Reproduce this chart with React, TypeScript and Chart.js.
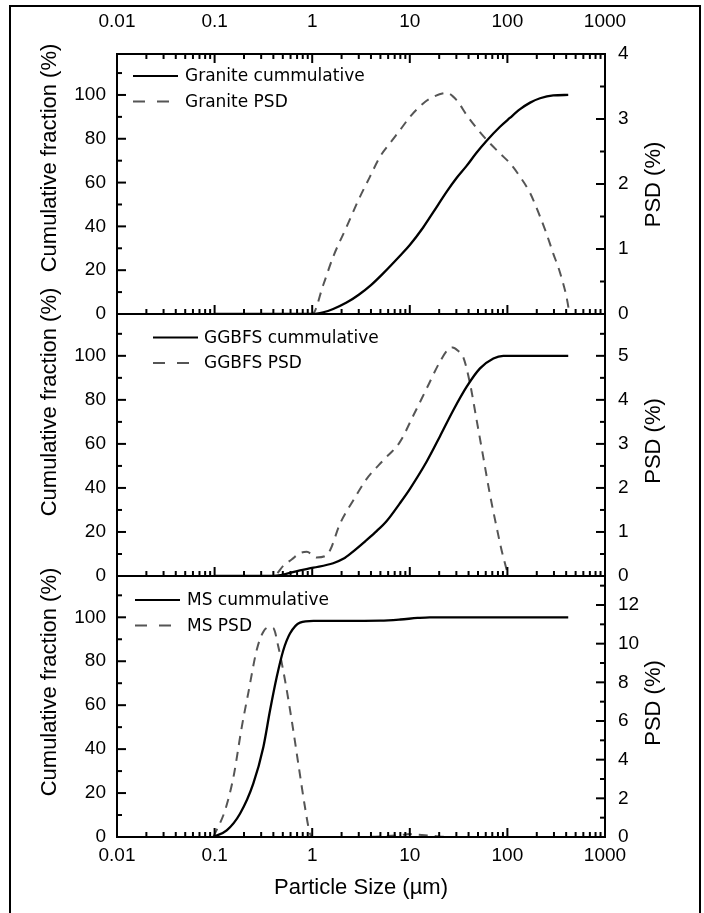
import React, { useEffect, useRef } from 'react';
import { Chart, registerables } from 'chart.js';

Chart.register(...registerables);

// ---------------- data ----------------
const xTickValues = [0.01, 0.1, 1, 10, 100, 1000];
const xTickLabels = ['0.01', '0.1', '1', '10', '100', '1000'];

const graniteCumSize = [0.1, 1, 1.3, 1.64, 2.25, 3, 4, 5.4, 7.9, 10, 13.7, 17.4, 24, 30, 38, 48, 61, 84, 106, 135, 171, 216, 295, 420];
const graniteCum = [0, 0, 0.8, 2.3, 5.2, 8.8, 13.2, 18.8, 26.5, 31.5, 39.5, 46.5, 56, 62, 67.5, 73.5, 79, 85.5, 89.5, 93.5, 96.5, 98.5, 99.8, 100];
const granitePsdSize = [0.1, 1, 1.3, 1.64, 2.25, 2.97, 3.9, 4.95, 6.27, 7.94, 10, 13.7, 17.4, 23.9, 30.2, 38.3, 48.4, 61.3, 84, 106, 135, 171, 216, 251, 295, 347, 421, 430];
const granitePsd = [0, 0, 0.45, 0.88, 1.34, 1.75, 2.11, 2.42, 2.63, 2.83, 3.03, 3.24, 3.34, 3.4, 3.29, 3.06, 2.86, 2.68, 2.47, 2.32, 2.11, 1.86, 1.5, 1.24, 0.93, 0.63, 0.11, 0];

const ggbfsCumSize = [0.1, 0.4, 0.75, 1.03, 1.64, 2.08, 2.6, 3.6, 4.6, 5.8, 7.9, 10, 14.9, 20.4, 27.9, 38.3, 52.4, 71.8, 90.8, 150, 420];
const ggbfsCum = [0, 0, 2.6, 3.8, 5.8, 7.8, 11, 16.3, 20.5, 25, 33, 39.5, 52, 63.5, 75.3, 86, 94.3, 98.8, 100, 100, 100];
const ggbfsPsdSize = [0.1, 0.4, 0.51, 0.62, 0.75, 0.88, 1.11, 1.35, 1.52, 1.93, 2.64, 3.6, 5.36, 7.9, 10.9, 14.9, 20.4, 24.8, 27.5, 31, 35.3, 41.4, 48.4, 56.6, 66, 77.5, 90.8, 106, 200, 421];
const ggbfsPsd = [0, 0, 0.24, 0.38, 0.52, 0.55, 0.42, 0.45, 0.58, 1.19, 1.72, 2.2, 2.63, 3.04, 3.65, 4.26, 4.87, 5.15, 5.19, 5.12, 4.97, 4.37, 3.54, 2.7, 1.87, 1.11, 0.43, 0, 0, 0];

const msCumSize = [0.097, 0.133, 0.182, 0.249, 0.316, 0.37, 0.433, 0.506, 0.592, 0.75, 1.03, 2, 5, 8, 12, 16, 30, 420];
const msCum = [0, 3, 10.6, 24.3, 41, 57.7, 72.8, 85, 92.6, 97.6, 98.4, 98.4, 98.5, 99, 99.7, 100, 100, 100];
const msPsdSize = [0.097, 0.128, 0.156, 0.19, 0.221, 0.27, 0.316, 0.36, 0.4, 0.45, 0.526, 0.616, 0.72, 0.843, 0.948, 1.0, 3, 8, 10, 12, 18, 25, 421];
const msPsd = [0, 1.38, 3.1, 5.7, 7.43, 9.67, 10.62, 10.85, 10.8, 9.84, 8.12, 6.05, 3.8, 1.55, 0.18, 0, 0, 0.1, 0.15, 0.12, 0.05, 0, 0];

const leftAxisTitle = 'Cumulative fraction (%)';
const rightAxisTitle = 'PSD (%)';
const xAxisTitle = 'Particle Size (µm)';

// ---------------- layout ----------------
const W = 704;
const H = 913;
const PLOT_LEFT = 117;
const PLOT_RIGHT = 605;
const Y_AXIS_W = 60;
const X_AXIS_H = 40;
const MAJOR = 9;
const MINOR = 5;
const TICK_FONT = { family: 'Liberation Sans', size: 19 };

const panels = [
  {
    cumLabel: 'Granite cummulative', psdLabel: 'Granite PSD',
    cumX: graniteCumSize, cumY: graniteCum, psdX: granitePsdSize, psdY: granitePsd,
    top: 54, bottom: 314, xPos: 'top', xLabels: true, topTicks: true,
    leftMax: 118.7, psdMax: 4, psdStep: 1,
    leftTitleY: 158, rightTitleY: 184.5, xTitleY: 0,
    legendX: 16, legendTextX: 68, legendY: 22,
  },
  {
    cumLabel: 'GGBFS cummulative', psdLabel: 'GGBFS PSD',
    cumX: ggbfsCumSize, cumY: ggbfsCum, psdX: ggbfsPsdSize, psdY: ggbfsPsd,
    top: 314, bottom: 576, xPos: 'bottom', xLabels: false, topTicks: false,
    leftMax: 119, psdMax: 5.95, psdStep: 1,
    leftTitleY: 402, rightTitleY: 441, xTitleY: 0,
    legendX: 36, legendTextX: 87, legendY: 23.5,
  },
  {
    cumLabel: 'MS cummulative', psdLabel: 'MS PSD',
    cumX: msCumSize, cumY: msCum, psdX: msPsdSize, psdY: msPsd,
    top: 576, bottom: 837, xPos: 'bottom', xLabels: true, topTicks: false,
    leftMax: 118.8, psdMax: 13.5, psdStep: 2,
    leftTitleY: 682, rightTitleY: 703, xTitleY: 888,
    legendX: 18, legendTextX: 70, legendY: 24,
  },
];

const decorPlugin = {
  id: 'decor',
  afterDraw(chart: any, _args: any, o: any) {
    const { ctx, chartArea: a } = chart;
    const xs = chart.scales.x;
    const yl = chart.scales.y;
    const yr = chart.scales.y2;
    const seg = (x1: number, y1: number, x2: number, y2: number) => {
      ctx.beginPath();
      ctx.moveTo(x1, y1);
      ctx.lineTo(x2, y2);
      ctx.stroke();
    };
    ctx.save();
    ctx.strokeStyle = '#000';
    ctx.lineWidth = 2;
    ctx.lineCap = 'butt';
    // x ticks (inward)
    for (let e = -2; e <= 3; e++) {
      for (let m = 1; m <= 9; m++) {
        const v = m * Math.pow(10, e);
        if (v > 1000.0001) continue;
        const px = xs.getPixelForValue(v);
        const len = m === 1 ? MAJOR : MINOR;
        seg(px, a.bottom, px, a.bottom - len);
        if (o.topTicks) seg(px, a.top, px, a.top + len);
      }
    }
    // left ticks
    yl.ticks.forEach((t: any) => {
      const py = yl.getPixelForValue(t.value);
      seg(a.left, py, a.left + MAJOR, py);
    });
    for (let v = 10; v < yl.max; v += 20) {
      const py = yl.getPixelForValue(v);
      seg(a.left, py, a.left + MINOR, py);
    }
    // right ticks
    yr.ticks.forEach((t: any) => {
      const py = yr.getPixelForValue(t.value);
      seg(a.right, py, a.right - MAJOR, py);
    });
    for (let v = o.psdStep / 2; v < yr.max; v += o.psdStep) {
      const py = yr.getPixelForValue(v);
      seg(a.right, py, a.right - MINOR, py);
    }
    // frame
    ctx.strokeRect(a.left, a.top, a.right - a.left, a.bottom - a.top);

    // titles
    ctx.fillStyle = '#000';
    ctx.font = '22px "Liberation Sans"';
    ctx.textAlign = 'center';
    ctx.textBaseline = 'middle';
    ctx.save();
    ctx.translate(50, o.leftTitleY);
    ctx.rotate(-Math.PI / 2);
    ctx.fillText(leftAxisTitle, 0, 0);
    ctx.restore();
    ctx.save();
    ctx.translate(653.5, o.rightTitleY);
    ctx.rotate(-Math.PI / 2);
    ctx.fillText(rightAxisTitle, 0, 0);
    ctx.restore();
    if (o.xTitleY) ctx.fillText(xAxisTitle, (a.left + a.right) / 2, o.xTitleY);

    // legend
    ctx.font = '17px "DejaVu Sans"';
    ctx.textAlign = 'left';
    chart.data.datasets.forEach((ds: any, i: number) => {
      const y = a.top + o.legendY + i * 25.5;
      ctx.strokeStyle = ds.borderColor;
      ctx.lineWidth = 2;
      ctx.setLineDash(ds.borderDash && ds.borderDash.length ? [12, 12] : []);
      seg(a.left + o.legendX, y, a.left + o.legendX + 45, y);
      ctx.setLineDash([]);
      ctx.fillStyle = '#000';
      ctx.fillText(ds.label, a.left + o.legendTextX, y + 1);
    });
    ctx.restore();
  },
};

function buildConfig(p: any): any {
  const xBoxH = p.xPos === 'top' ? p.top : X_AXIS_H;
  const topPad = p.xPos === 'top' ? 0 : p.top;
  const bottomPad = p.xPos === 'top' ? H - p.bottom : H - p.bottom - X_AXIS_H;
  return {
    type: 'line',
    data: {
      datasets: [
        {
          label: p.cumLabel,
          data: p.cumX.map((x: number, i: number) => ({ x, y: p.cumY[i] })),
          yAxisID: 'y',
          borderColor: '#000',
          borderWidth: 2.3,
          pointRadius: 0,
          cubicInterpolationMode: 'monotone',
          fill: false,
        },
        {
          label: p.psdLabel,
          data: p.psdX.map((x: number, i: number) => ({ x, y: p.psdY[i] })),
          yAxisID: 'y2',
          borderColor: '#555555',
          borderWidth: 2,
          borderDash: [9, 7],
          pointRadius: 0,
          cubicInterpolationMode: 'monotone',
          fill: false,
        },
      ],
    },
    options: {
      responsive: false,
      animation: false,
      devicePixelRatio: 1,
      events: [],
      layout: {
        padding: { left: PLOT_LEFT - Y_AXIS_W, right: W - PLOT_RIGHT - Y_AXIS_W, top: topPad, bottom: bottomPad },
      },
      plugins: {
        legend: { display: false },
        tooltip: { enabled: false },
        decor: { topTicks: p.topTicks, psdStep: p.psdStep, leftTitleY: p.leftTitleY, rightTitleY: p.rightTitleY, xTitleY: p.xTitleY, legendX: p.legendX, legendTextX: p.legendTextX, legendY: p.legendY },
      },
      scales: {
        x: {
          type: 'logarithmic',
          position: p.xPos,
          min: 0.01,
          max: 1000,
          grid: { display: false, drawTicks: false },
          border: { display: false },
          afterBuildTicks: (s: any) => { s.ticks = xTickValues.map((v) => ({ value: v, major: true })); },
          afterFit: (s: any) => { s.height = xBoxH; },
          ticks: {
            display: p.xLabels,
            autoSkip: false,
            maxRotation: 0,
            minRotation: 0,
            color: '#000',
            font: TICK_FONT,
            padding: p.xPos === 'top' ? 21 : 7,
            callback: (_v: any, i: number) => xTickLabels[i],
          },
        },
        y: {
          type: 'linear',
          position: 'left',
          min: 0,
          max: p.leftMax,
          grid: { display: false, drawTicks: false },
          border: { display: false },
          afterFit: (s: any) => { s.width = Y_AXIS_W; },
          ticks: { stepSize: 20, includeBounds: false, color: '#000', font: TICK_FONT, padding: 11 },
        },
        y2: {
          type: 'linear',
          position: 'right',
          min: 0,
          max: p.psdMax,
          grid: { display: false, drawTicks: false },
          border: { display: false },
          afterFit: (s: any) => { s.width = Y_AXIS_W; },
          ticks: { stepSize: p.psdStep, includeBounds: false, color: '#000', font: TICK_FONT, padding: 13 },
        },
      },
    },
    plugins: [decorPlugin],
  };
}

export default function App() {
  const r0 = useRef<HTMLCanvasElement>(null);
  const r1 = useRef<HTMLCanvasElement>(null);
  const r2 = useRef<HTMLCanvasElement>(null);
  const refs = [r0, r1, r2];

  useEffect(() => {
    const charts = panels.map((p, i) => new Chart(refs[i].current as HTMLCanvasElement, buildConfig(p)));
    return () => charts.forEach((c) => c.destroy());
  }, []);

  return (
    <div style={{ position: 'fixed', left: 0, top: 0, width: W, height: H, overflow: 'hidden', background: '#fff' }}>
      <div
        style={{
          position: 'absolute', left: 9, top: 5, width: 692, height: 930,
          border: '2px solid #000', boxSizing: 'border-box',
        }}
      />
      {refs.map((r, i) => (
        <canvas
          key={i}
          ref={r}
          width={W}
          height={H}
          style={{ position: 'absolute', left: 0, top: 0, width: W, height: H }}
        />
      ))}
    </div>
  );
}
